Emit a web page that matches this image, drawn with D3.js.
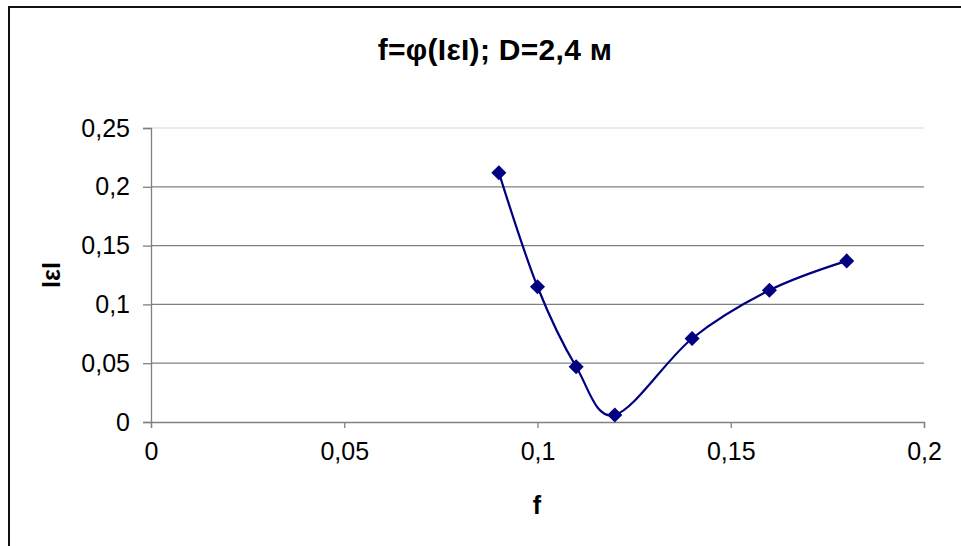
<!DOCTYPE html>
<html>
<head>
<meta charset="utf-8">
<script src="https://cdn.jsdelivr.net/npm/d3@7"></script>
<style>
  body { margin: 0; background: #fff; }
  svg { display: block; font-family: Arial, "Liberation Sans", sans-serif; }
</style>
</head>
<body>
<svg class="chart"></svg>
<script>
// data
const fValues = [0.09, 0.10, 0.11, 0.12, 0.14, 0.16, 0.18];
const epsValues = [0.212, 0.115, 0.047, 0.006, 0.071, 0.112, 0.137];
const xTicks = [0, 0.05, 0.1, 0.15, 0.2];
const yTicks = [0, 0.05, 0.1, 0.15, 0.2, 0.25];
const titleText = "f=φ(IεI); D=2,4 м";
const xTitle = "f";
const yTitle = "IεI";

let W = 961, H = 546,
    margin = {top: 128, right: 37, bottom: 124, left: 151},
    width = W - margin.left - margin.right,
    height = H - margin.top - margin.bottom

let svg = d3.select(".chart").attr("width", W).attr("height", H)
const fmt = d => String(d).replace(".", ",")

// chart area border (runs off the right and bottom edges)
svg.append("path")
   .attr("d", "M9,560V7H980")
   .attr("fill", "none")
   .attr("stroke", "#111")
   .attr("stroke-width", 2)

let x = d3.scaleLinear().domain([0, 0.2]).range([0, width]),
    y = d3.scaleLinear().domain([0, 0.25]).range([height, 0])

let g = svg.append("g").attr("transform", "translate(" + margin.left + "," + margin.top + ")")

// gridlines
g.selectAll(".grid")
 .data(yTicks.filter(d => d > 0))
 .enter().append("line")
   .attr("x1", 0).attr("x2", width)
   .attr("y1", d => y(d)).attr("y2", d => y(d))
   .attr("stroke", d => d === 0.25 ? "#e4e4e4" : "#808080")
   .attr("stroke-width", 1.3)

let xAxis = d3.axisBottom(x).tickValues(xTicks).tickSize(6).tickSizeOuter(6).tickPadding(14).tickFormat(fmt),
    yAxis = d3.axisLeft(y).tickValues(yTicks).tickSize(8).tickSizeOuter(8).tickPadding(13).tickFormat(fmt)

function styleAxis(ax) {
  ax.select(".domain").attr("stroke", "#808080").attr("stroke-width", 1.3)
  ax.selectAll(".tick line").attr("stroke", "#808080").attr("stroke-width", 1.3)
  ax.selectAll(".tick text").attr("font-size", 25).attr("fill", "#000").attr("font-family", "Arial, 'Liberation Sans', sans-serif")
}
g.append("g").attr("transform", "translate(0," + height + ")").call(xAxis).call(styleAxis)
g.append("g").call(yAxis).call(styleAxis)

let pts = fValues.map((f, i) => [f, epsValues[i]])

let line = d3.line()
    .x(d => x(d[0]))
    .y(d => y(d[1]))
    .curve(d3.curveCardinal.tension(0))

g.append("path")
 .datum(pts)
 .attr("d", line)
 .attr("fill", "none")
 .attr("stroke", "#000080")
 .attr("stroke-width", 2.2)

g.selectAll(".pt")
 .data(pts)
 .enter().append("path")
   .attr("d", d3.symbol(d3.symbolDiamond2, 145))
   .attr("transform", d => "translate(" + x(d[0]) + "," + y(d[1]) + ")")
   .attr("fill", "#000080")

// titles
svg.append("text")
   .attr("x", 495).attr("y", 60)
   .attr("text-anchor", "middle")
   .attr("font-size", 30).attr("font-weight", "bold")
   .attr("letter-spacing", 0.3)
   .text(titleText)

svg.append("text")
   .attr("x", 537).attr("y", 514)
   .attr("text-anchor", "middle")
   .attr("font-size", 25).attr("font-weight", "bold")
   .text(xTitle)

svg.append("text")
   .attr("transform", "translate(60,275) rotate(-90)")
   .attr("text-anchor", "middle")
   .attr("font-size", 25).attr("font-weight", "bold")
   .text(yTitle)
</script>
</body>
</html>
